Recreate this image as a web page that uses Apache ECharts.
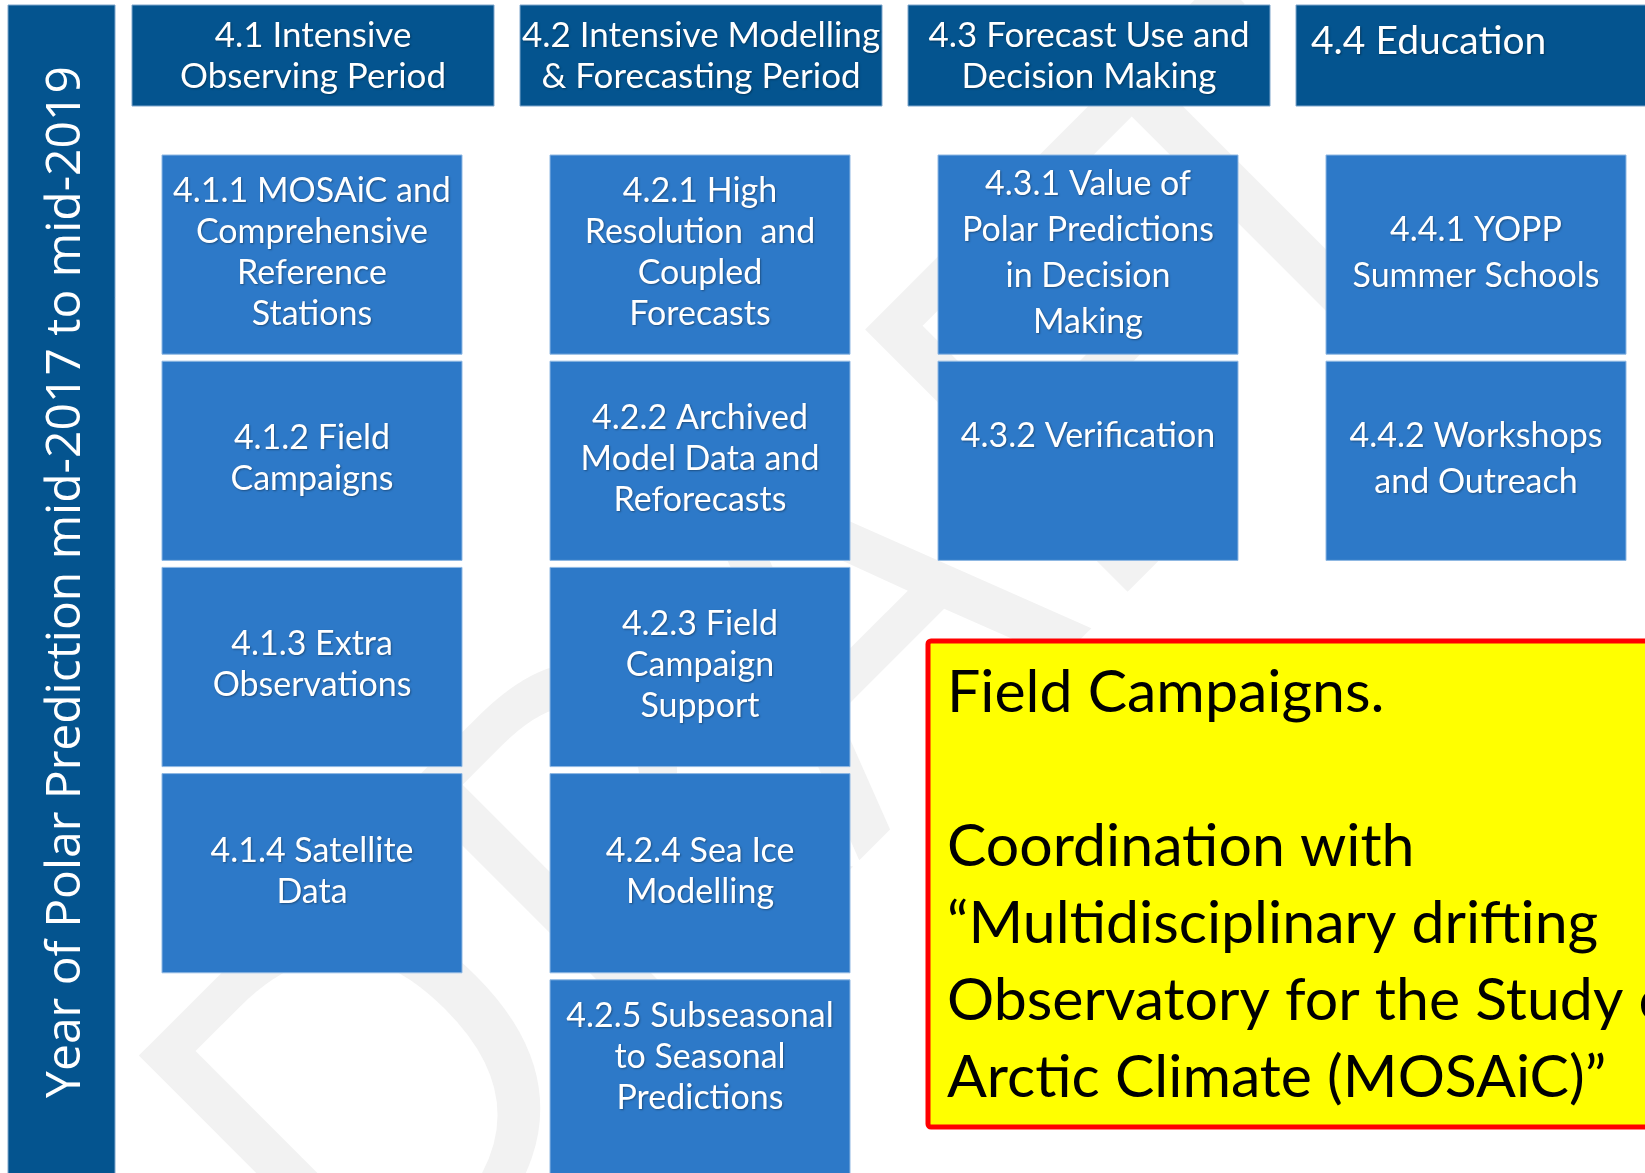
<!DOCTYPE html>
<html>
<head>
<meta charset="utf-8">
<script src="https://cdn.jsdelivr.net/npm/echarts@6/dist/echarts.min.js"></script>
<style>
  html, body { margin: 0; padding: 0; background: #fff; }
  #main { width: 1645px; height: 1173px; }
</style>
</head>
<body>
<div id="main"></div>
<script>
// themes across the top, one per column
const themes = [
  '4.1 Intensive\nObserving Period',
  '4.2 Intensive Modelling\n& Forecasting Period',
  '4.3 Forecast Use and\nDecision Making',
  '4.4 Education'
];

// tasks under each theme
const tasks41 = [
  '4.1.1 MOSAiC and\nComprehensive\nReference\nStations',
  '4.1.2 Field\nCampaigns',
  '4.1.3 Extra\nObservations',
  '4.1.4 Satellite\nData'
];
const tasks42 = [
  '4.2.1 High\nResolution  and\nCoupled\nForecasts',
  '4.2.2 Archived\nModel Data and\nReforecasts',
  '4.2.3 Field\nCampaign\nSupport',
  '4.2.4 Sea Ice\nModelling',
  '4.2.5 Subseasonal\nto Seasonal\nPredictions\n'
];
const tasks43 = [
  '4.3.1 Value of\nPolar Predictions\nin Decision\nMaking',
  '4.3.2 Verification\n'
];
const tasks44 = [
  '4.4.1 YOPP\nSummer Schools',
  '4.4.2 Workshops\nand Outreach'
];

const sideLabel = 'Year of Polar Prediction mid-2017 to mid-2019';
const noteLines = [
  'Field Campaigns.',
  '',
  'Coordination with',
  '\u201CMultidisciplinary drifting',
  'Observatory for the Study of',
  'Arctic Climate (MOSAiC)\u201D'
];
const watermark = 'DRAFT';

const DARK = '#04548f';
const MID = '#2d79c8';
const FONT = 'Lato, "Open Sans", sans-serif';
const SHADOW = {
  textShadowColor: 'rgba(0,0,0,0.35)',
  textShadowBlur: 2,
  textShadowOffsetX: 1,
  textShadowOffsetY: 1
};

const taskCols = [tasks41, tasks42, tasks43, tasks44];
const headerData = themes.map((t, i) => [i, 0, t]);
const taskData = [];
taskCols.forEach((list, c) => {
  list.forEach((t, r) => taskData.push([c, r, t]));
});

function renderHeader(params, api) {
  const col = api.value(0);
  const p0 = api.coord([col, 0]);
  const p1 = api.coord([col + 1, 1]);
  const x = p0[0] + 2;
  const w = 362;
  const text = headerData[params.dataIndex][2];
  const oneLine = text.indexOf('\n') < 0;
  return {
    type: 'group',
    children: [
      {
        type: 'rect',
        shape: { x: x, y: p0[1], width: w, height: p1[1] - p0[1] },
        style: { fill: DARK, stroke: '#7fa6cc', lineWidth: 1 }
      },
      {
        type: 'text',
        x: oneLine ? x + 15 : x + w / 2,
        y: oneLine ? p0[1] + 36 : (p0[1] + p1[1]) / 2 + 1,
        style: Object.assign({
          text: text,
          fill: '#fff',
          font: (oneLine ? '39px ' : '35px ') + FONT,
          lineHeight: 41,
          align: oneLine ? 'left' : 'center',
          verticalAlign: 'middle'
        }, SHADOW)
      }
    ]
  };
}

function renderTask(params, api) {
  const col = api.value(0);
  const row = api.value(1);
  const p0 = api.coord([col, row]);
  const p1 = api.coord([col + 1, row + 1]);
  const x = p0[0] + 32;
  const w = 300;
  const h = p1[1] - p0[1] - 7;
  const text = taskData[params.dataIndex][2];
  return {
    type: 'group',
    children: [
      {
        type: 'rect',
        shape: { x: x, y: p0[1], width: w, height: h },
        style: { fill: MID, stroke: '#8fb8e3', lineWidth: 1 }
      },
      {
        type: 'text',
        x: x + w / 2,
        y: p0[1] + h / 2 - 2,
        style: Object.assign({
          text: text,
          fill: '#fff',
          font: '34px ' + FONT,
          lineHeight: col >= 2 ? 46 : 41,
          align: 'center',
          verticalAlign: 'middle'
        }, SHADOW)
      }
    ]
  };
}

const chart = echarts.init(document.getElementById('main'), null, { renderer: 'canvas' });

const option = {
  animation: false,
  backgroundColor: '#fff',
  grid: [
    { left: 130, top: 5, width: 1552, height: 101, outerBoundsMode: 'none', containLabel: false },
    { left: 130, top: 155, width: 1552, height: 1031, outerBoundsMode: 'none', containLabel: false }
  ],
  xAxis: [
    { type: 'value', gridIndex: 0, min: 0, max: 4, show: false },
    { type: 'value', gridIndex: 1, min: 0, max: 4, show: false }
  ],
  yAxis: [
    { type: 'value', gridIndex: 0, min: 0, max: 1, inverse: true, show: false },
    { type: 'value', gridIndex: 1, min: 0, max: 5, inverse: true, show: false }
  ],
  graphic: [
    // faint watermark behind the boxes
    {
      type: 'text', z: -10, silent: true,
      x: 820, y: 690, rotation: Math.PI / 4,
      style: {
        text: watermark,
        fill: '#f2f2f2',
        font: '520px "Open Sans", sans-serif',
        align: 'center',
        verticalAlign: 'middle'
      }
    },
    // side bar
    {
      type: 'rect', z: 5,
      shape: { x: 8, y: 5, width: 107, height: 1180 },
      style: { fill: DARK, stroke: '#7fa6cc', lineWidth: 1 }
    },
    {
      type: 'text', z: 6,
      x: 66, y: 582, rotation: Math.PI / 2,
      style: {
        text: sideLabel,
        fill: '#fff',
        font: '48px "Open Sans", sans-serif',
        align: 'center',
        verticalAlign: 'middle'
      }
    },
    // yellow note
    {
      type: 'rect', z: 20,
      shape: { x: 928, y: 641, width: 760, height: 486, r: 3 },
      style: { fill: '#ffff00', stroke: '#ff0000', lineWidth: 5 }
    },
    {
      type: 'text', z: 21,
      x: 947, y: 654,
      style: {
        text: noteLines.join('\n'),
        fill: '#000',
        font: '59px Lato, "Open Sans", sans-serif',
        lineHeight: 77,
        align: 'left',
        verticalAlign: 'top'
      }
    }
  ],
  series: [
    {
      type: 'custom',
      name: 'themes',
      xAxisIndex: 0,
      yAxisIndex: 0,
      renderItem: renderHeader,
      data: headerData.map(d => [d[0], d[1]]),
      clip: false
    },
    {
      type: 'custom',
      name: 'tasks',
      xAxisIndex: 1,
      yAxisIndex: 1,
      renderItem: renderTask,
      data: taskData.map(d => [d[0], d[1]]),
      clip: false
    }
  ]
};

chart.setOption(option);
</script>
</body>
</html>
